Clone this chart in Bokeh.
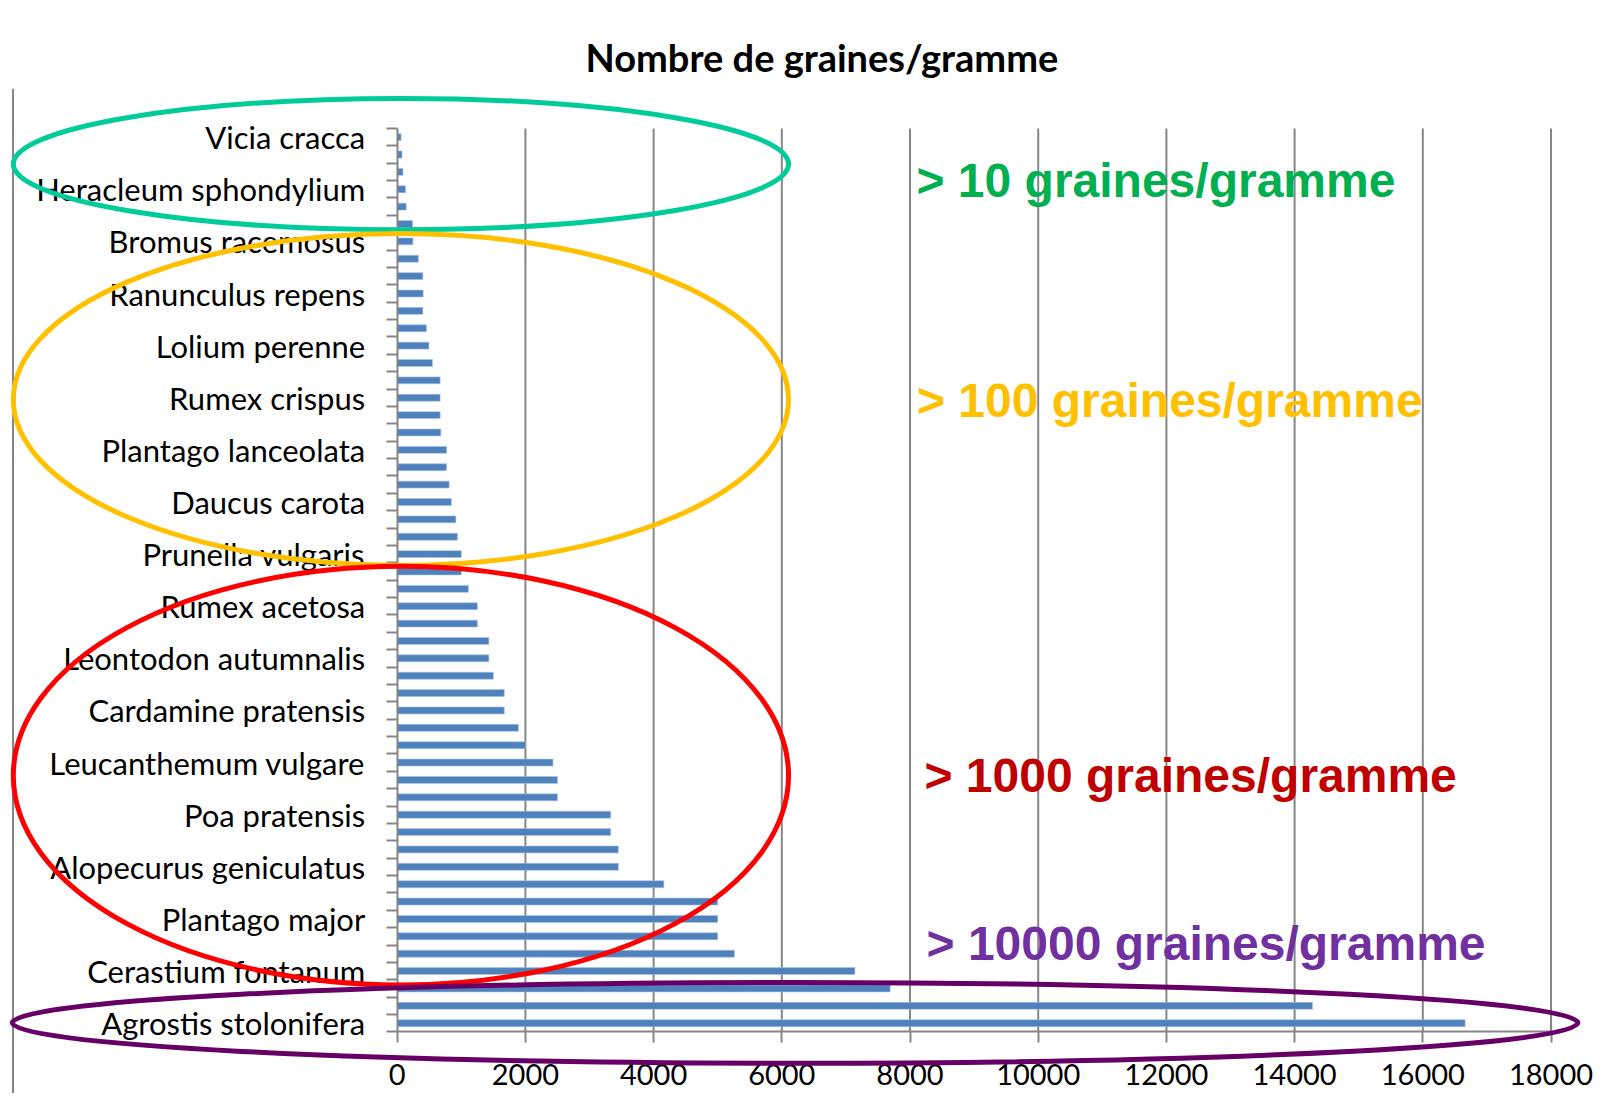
from bokeh.plotting import figure
from bokeh.models import Range1d, LinearAxis, FixedTicker, Span, ColumnDataSource
from bokeh.core.properties import value
from bokeh.embed import file_html
from bokeh.resources import INLINE

# ---------------- data (top of chart -> bottom) ----------------
seeds_per_gram = [60, 75, 90, 130, 140, 240, 245, 330, 400, 405, 400, 455, 495, 550,
                  670, 670, 670, 680, 770, 770, 810, 845, 915, 940, 1000, 1000, 1110,
                  1250, 1250, 1430, 1430, 1500, 1670, 1670, 1890, 2000, 2430, 2500, 2500,
                  3330, 3330, 3450, 3450, 4160, 5000, 5000, 5000, 5260, 7140, 7690,
                  14280, 16660]
shown_species = ["Vicia cracca", "Heracleum sphondylium", "Bromus racemosus",
                 "Ranunculus repens", "Lolium perenne", "Rumex crispus",
                 "Plantago lanceolata", "Daucus carota", "Prunella vulgaris",
                 "Rumex acetosa", "Leontodon autumnalis", "Cardamine pratensis",
                 "Leucanthemum vulgare", "Poa pratensis", "Alopecurus geniculatus",
                 "Plantago major", "Cerastium fontanum", "Agrostis stolonifera"]
x_ticks = [0, 2000, 4000, 6000, 8000, 10000, 12000, 14000, 16000, 18000]
x_tick_labels = ["0", "2000", "4000", "6000", "8000", "10000", "12000", "14000", "16000", "18000"]

group_texts = ["> 10 graines/gramme", "> 100 graines/gramme",
               "> 1000 graines/gramme", "> 10000 graines/gramme"]
group_text_colors = ["#00B050", "#FFC000", "#C00000", "#7030A0"]
group_text_x = [8101, 8109, 8226, 8258]
group_text_y = [49.50, 36.82, 15.25, 5.59]

ellipse_x = [58, 58, 58, 6207]
ellipse_y = [50.45, 36.90, 15.25, 1.02]
ellipse_w = [12094, 12094, 12094, 24426]
ellipse_h = [7.55, 19.10, 24.10, 4.65]
ellipse_colors = ["#00CC99", "#FFC000", "#FF0000", "#660066"]

n = len(seeds_per_gram)
positions = [n - i for i in range(n)]          # top bar highest position
label_positions = [n - 3 * i for i in range(len(shown_species))]
boundaries = [k + 0.5 for k in range(0, n + 1)]

GRAY = "#868686"

p = figure(width=1598, height=1093,
           x_range=Range1d(-6189, 18741), y_range=Range1d(-3.047, 54.80),
           x_axis_type=None, y_axis_type=None,
           output_backend="svg", toolbar_location=None,
           min_border_left=0, min_border_right=0, min_border_bottom=0, min_border_top=88)
p.outline_line_color = None
p.background_fill_color = "white"
p.border_fill_color = "white"

p.title.text = "Nombre de graines/gramme"
p.title.align = "left"
p.title.offset = 585
p.title.text_font = "Lato"
p.title.text_font_size = "38px"
p.title.text_font_style = "bold"
p.title.text_color = "black"
p.title.standoff = 18

# chart-area border line on the left
p.add_layout(Span(location=-5994, dimension="height", line_color=GRAY, line_width=2))

# vertical gridlines
grid_x = x_ticks[1:]
p.segment(x0=grid_x, y0=[0.5] * len(grid_x), x1=grid_x, y1=[n + 0.5] * len(grid_x),
          line_color=GRAY, line_width=2)

# bars
src = ColumnDataSource(dict(y=positions, v=seeds_per_gram))
p.hbar(y="y", left=0, right="v", height=0.4, source=src,
       fill_color="#4F81BD", line_color="#A9C2E0", line_width=0.6)

# axes
yax = LinearAxis(fixed_location=0,
                 ticker=FixedTicker(ticks=label_positions, minor_ticks=boundaries),
                 major_label_overrides={k: s for k, s in zip(label_positions, shown_species)},
                 bounds=(0.5, n + 0.5))
yax.axis_line_color = GRAY
yax.axis_line_width = 2
yax.major_tick_out = 0
yax.major_tick_in = 0
yax.minor_tick_out = 11
yax.minor_tick_in = 0
yax.minor_tick_line_color = GRAY
yax.minor_tick_line_width = 2
yax.major_label_standoff = 21
yax.major_label_text_font = "Lato"
yax.major_label_text_font_size = "31px"
yax.major_label_text_color = "black"
p.add_layout(yax, "left")

xax = LinearAxis(fixed_location=0.5, ticker=FixedTicker(ticks=x_ticks),
                 major_label_overrides={t: s for t, s in zip(x_ticks, x_tick_labels)},
                 bounds=(0, 18000))
xax.axis_line_color = GRAY
xax.axis_line_width = 2
xax.major_tick_out = 11
xax.major_tick_in = 0
xax.major_tick_line_color = GRAY
xax.major_tick_line_width = 2
xax.major_label_standoff = 21
xax.major_label_text_font = "Lato"
xax.major_label_text_font_size = "29px"
xax.major_label_text_color = "black"
p.add_layout(xax, "below")

# group labels
tsrc = ColumnDataSource(dict(x=group_text_x, y=group_text_y, t=group_texts, c=group_text_colors))
p.text(x="x", y="y", text="t", text_color="c", source=tsrc,
       text_font=value("Liberation Sans"), text_font_size="48px", text_font_style="bold",
       text_baseline="middle", text_align="left")

# ellipses (drawn above axis labels)
esrc = ColumnDataSource(dict(x=ellipse_x, y=ellipse_y, w=ellipse_w, h=ellipse_h, c=ellipse_colors))
p.ellipse(x="x", y="y", width="w", height="h", source=esrc,
          fill_color=None, line_color="c", line_width=5, level="overlay")

open("out.html", "w").write(file_html(p, INLINE))
